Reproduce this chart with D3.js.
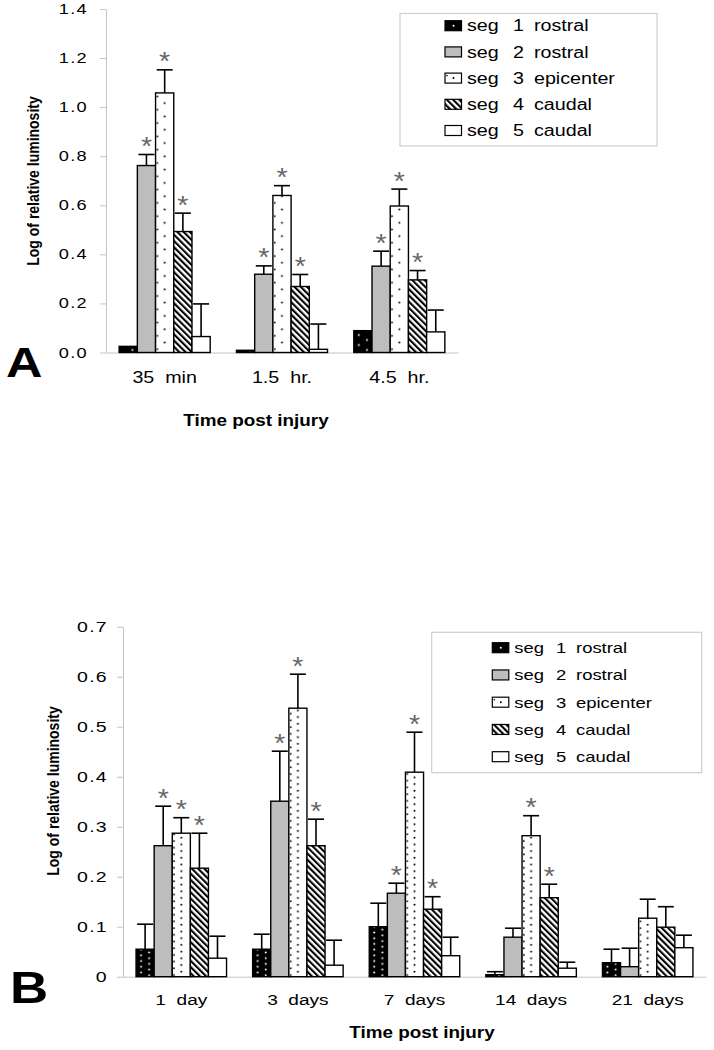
<!DOCTYPE html>
<html><head><meta charset="utf-8">
<script src="https://cdn.jsdelivr.net/npm/d3@7"></script>
<style>
html,body{margin:0;padding:0;background:#fff;}
svg{display:block;}
text{font-family:"Liberation Sans",Arial,sans-serif;}
</style></head><body>
<svg id="chart" width="714" height="1050"></svg>
<script>
// ---------- legend ----------
const segNumbers = ["1", "2", "3", "4", "5"];
const segRegions = ["rostral", "rostral", "epicenter", "caudal", "caudal"];

// ---------- panel A ----------
const categoriesA = ["35  min", "1.5  hr.", "4.5  hr."];
const seg1A = [0.025, 0.009, 0.089];
const seg2A = [0.762, 0.319, 0.352];
const seg3A = [1.058, 0.640, 0.597];
const seg4A = [0.493, 0.269, 0.296];
const seg5A = [0.065, 0.013, 0.084];
const err1A = [0, 0, 0];
const err2A = [0.045, 0.034, 0.061];
const err3A = [0.094, 0.040, 0.069];
const err4A = [0.075, 0.049, 0.038];
const err5A = [0.133, 0.103, 0.089];
const sig1A = [0, 0, 0];
const sig2A = [1, 1, 1];
const sig3A = [1, 1, 1];
const sig4A = [1, 1, 1];
const sig5A = [0, 0, 0];
const yTicksA = [0, 0.2, 0.4, 0.6, 0.8, 1.0, 1.2, 1.4];
const yTickLabelsA = ["0.0", "0.2", "0.4", "0.6", "0.8", "1.0", "1.2", "1.4"];

// ---------- panel B ----------
const categoriesB = ["1  day", "3  days", "7  days", "14  days", "21  days"];
const seg1B = [0.055, 0.055, 0.100, 0.004, 0.028];
const seg2B = [0.262, 0.351, 0.167, 0.079, 0.020];
const seg3B = [0.287, 0.537, 0.409, 0.282, 0.117];
const seg4B = [0.217, 0.262, 0.135, 0.158, 0.099];
const seg5B = [0.037, 0.023, 0.042, 0.017, 0.058];
const err1B = [0.050, 0.030, 0.047, 0.006, 0.027];
const err2B = [0.079, 0.100, 0.020, 0.018, 0.037];
const err3B = [0.031, 0.068, 0.080, 0.040, 0.038];
const err4B = [0.070, 0.053, 0.025, 0.027, 0.041];
const err5B = [0.044, 0.050, 0.037, 0.012, 0.025];
const sig1B = [0, 0, 0, 0, 0];
const sig2B = [1, 1, 1, 0, 0];
const sig3B = [1, 1, 1, 1, 0];
const sig4B = [1, 1, 1, 1, 0];
const sig5B = [0, 0, 0, 0, 0];
const yTicksB = [0, 0.1, 0.2, 0.3, 0.4, 0.5, 0.6, 0.7];
const yTickLabelsB = ["0", "0.1", "0.2", "0.3", "0.4", "0.5", "0.6", "0.7"];

const axisTitleX = "Time post injury";
const axisTitleY = "Log of relative luminosity";

// ---------- drawing ----------
const svg = d3.select("#chart");
const defs = svg.append("defs");
const GRAY = "#bdbdbd", AXIS = "#c4c4c4";

defs.append("pattern").attr("id", "stripes").attr("patternUnits", "userSpaceOnUse")
  .attr("width", 4.4).attr("height", 4.4).attr("patternTransform", "rotate(-45)")
  .call(p => { p.append("rect").attr("width", 4.4).attr("height", 4.4).attr("fill", "#fff");
               p.append("rect").attr("width", 2.1).attr("height", 4.4).attr("fill", "#000"); });

function stext(parent, str, x, y, o = {}) {
  const t = parent.append("text")
    .attr("transform", `translate(${x},${y}) scale(${o.sx || 1},1)` + (o.rotate ? ` rotate(${o.rotate})` : ""))
    .attr("text-anchor", o.anchor || "start")
    .style("font-size", (o.size || 14) + "px")
    .style("font-weight", o.bold ? "bold" : "normal")
    .style("white-space", "pre")
    .attr("fill", o.fill || "#000")
    .text(str);
  if (o.ls) t.style("letter-spacing", o.ls + "px");
  return t;
}

function drawPanel(p) {
  const g = svg.append("g");
  const x0 = d3.scaleBand().domain(p.categories).range(p.xRange).paddingInner(0.224).paddingOuter(0.112);
  const x1 = d3.scaleBand().domain(d3.range(p.series.length)).range([0, x0.bandwidth()]);
  const y = d3.scaleLinear().domain(p.yDomain).range(p.yRange);
  const bw = x1.bandwidth();

  // y axis
  const ya = g.append("g").attr("transform", `translate(${p.xRange[0]},0)`)
    .call(d3.axisLeft(y).tickValues(p.yTicks).tickSize(6).tickSizeOuter(0).tickFormat(""));
  ya.selectAll("path,line").attr("stroke", AXIS);
  p.yTicks.forEach((v, i) => stext(g, p.yTickLabels[i], p.yLabelX, y(v) + p.yLabelSize * 0.36,
    { anchor: "end", size: p.yLabelSize, sx: 1.3, ls: 1 }));
  // x axis baseline
  const xa = g.append("g").attr("transform", `translate(0,${y(0)})`)
    .call(d3.axisBottom(x0).tickSize(0).tickSizeOuter(0).tickFormat(""));
  xa.select("path").attr("stroke", AXIS);
  p.categories.forEach(c => stext(g, c, x0(c) + x0.bandwidth() / 2, p.xLabelY,
    { anchor: "middle", size: p.xLabelSize, sx: 1.23 }));

  // records
  const recs = [];
  p.series.forEach((s, si) => s.values.forEach((v, ci) => recs.push({
    si, ci, v, e: s.err[ci], sig: s.sig[ci], x: x0(p.categories[ci]) + x1(si)
  })));

  // per-bar patterns
  recs.forEach(r => {
    if (r.si === 0) {
      const h = p.dotStep1;
      defs.append("pattern").attr("id", `${p.id}p1_${r.ci}`).attr("patternUnits", "userSpaceOnUse")
        .attr("x", r.x).attr("y", y(0)).attr("width", bw).attr("height", h)
        .call(pt => {
          pt.append("rect").attr("width", bw).attr("height", h).attr("fill", "#000");
          pt.append("circle").attr("cx", 5).attr("cy", h * 0.25).attr("r", 1).attr("fill", "#fff");
          pt.append("circle").attr("cx", bw - 5).attr("cy", h * 0.75).attr("r", 1).attr("fill", "#fff");
        });
      r.fill = `url(#${p.id}p1_${r.ci})`;
    } else if (r.si === 2) {
      const h = p.dotStep3;
      defs.append("pattern").attr("id", `${p.id}p3_${r.ci}`).attr("patternUnits", "userSpaceOnUse")
        .attr("x", r.x).attr("y", y(0)).attr("width", bw).attr("height", h)
        .call(pt => {
          pt.append("rect").attr("width", bw).attr("height", h).attr("fill", "#fff");
          pt.append("circle").attr("cx", bw / 2).attr("cy", h * 0.25).attr("r", 1).attr("fill", "#000");
          pt.append("circle").attr("cx", 1.8).attr("cy", h * 0.75).attr("r", 0.9).attr("fill", "#000");
        });
      r.fill = `url(#${p.id}p3_${r.ci})`;
    } else if (r.si === 1) r.fill = GRAY;
    else if (r.si === 3) r.fill = "url(#stripes)";
    else r.fill = "#fff";
  });

  // error bars
  const eb = g.append("g").selectAll("g").data(recs.filter(r => r.e > 0)).join("g")
    .attr("stroke", "#000").attr("stroke-width", 1.6);
  eb.append("line").attr("x1", r => r.x + bw / 2).attr("x2", r => r.x + bw / 2)
    .attr("y1", r => y(r.v)).attr("y2", r => y(r.v + r.e));
  eb.append("line").attr("x1", r => r.x + bw / 2 - 8).attr("x2", r => r.x + bw / 2 + 8)
    .attr("y1", r => y(r.v + r.e)).attr("y2", r => y(r.v + r.e));

  // bars
  g.append("g").selectAll("rect").data(recs).join("rect")
    .attr("x", r => r.x).attr("width", bw)
    .attr("y", r => y(r.v)).attr("height", r => y(0) - y(r.v))
    .attr("fill", r => r.fill).attr("stroke", "#000").attr("stroke-width", 1.4);

  // asterisks
  recs.filter(r => r.sig).forEach(r => stext(g, "*", r.x + bw / 2, y(r.v + r.e) - 14 + 14.5,
    { anchor: "middle", size: 26, fill: "#666", sx: 1.1 }));

  // titles
  stext(g, axisTitleY, p.yTitle[0], p.yTitle[1], { anchor: "middle", size: 14, bold: true, sx: 1.2, rotate: -90 });
  stext(g, axisTitleX, p.xTitle[0], p.xTitle[1], { anchor: "middle", size: 16, bold: true, sx: 1.18 });
  stext(g, p.letter, p.letterPos[0], p.letterPos[1], { size: p.letterSize, bold: true, sx: 1.2 });

  // legend
  const L = p.legend;
  g.append("rect").attr("x", L.box[0]).attr("y", L.box[1]).attr("width", L.box[2] - L.box[0])
    .attr("height", L.box[3] - L.box[1]).attr("fill", "#fff").attr("stroke", "#cfcfcf").attr("stroke-width", 1.2);
  segNumbers.forEach((n, i) => {
    const cy = L.row0 + i * L.rowStep;
    const sw = g.append("g").attr("transform", `translate(${L.swX},${cy - 5})`);
    const fills = ["#000", GRAY, "#fff", "url(#stripes)", "#fff"];
    sw.append("rect").attr("width", 16.5).attr("height", 10).attr("fill", fills[i]).attr("stroke", "#000").attr("stroke-width", 1.2);
    if (i === 0) sw.append("circle").attr("cx", 8.5).attr("cy", 5).attr("r", 1).attr("fill", "#fff");
    if (i === 2) { sw.append("circle").attr("cx", 8.5).attr("cy", 5).attr("r", 1).attr("fill", "#000");
                   sw.append("circle").attr("cx", 2).attr("cy", 2.5).attr("r", 0.8).attr("fill", "#000"); }
    stext(g, "seg", L.tx[0], cy + L.size * 0.36, { size: L.size, sx: 1.23 });
    stext(g, n, L.tx[1], cy + L.size * 0.36, { size: L.size, sx: 1.23 });
    stext(g, segRegions[i], L.tx[2], cy + L.size * 0.36, { size: L.size, sx: 1.23 });
  });
}

drawPanel({
  id: "A", categories: categoriesA, xRange: [106, 458], yDomain: [0, 1.4], yRange: [352.5, 9],
  series: [
    { values: seg1A, err: err1A, sig: sig1A }, { values: seg2A, err: err2A, sig: sig2A },
    { values: seg3A, err: err3A, sig: sig3A }, { values: seg4A, err: err4A, sig: sig4A },
    { values: seg5A, err: err5A, sig: sig5A }],
  yTicks: yTicksA, yTickLabels: yTickLabelsA, yLabelX: 88, yLabelSize: 14,
  xLabelY: 383, xLabelSize: 16, dotStep1: 10, dotStep3: 13.3,
  yTitle: [39, 181], xTitle: [256, 426], letter: "A", letterPos: [6, 377], letterSize: 42,
  legend: { box: [400, 13.5, 657, 146], row0: 25.7, rowStep: 26.2, swX: 445, tx: [467, 513, 534], size: 16 }
});

drawPanel({
  id: "B", categories: categoriesB, xRange: [123, 706], yDomain: [0, 0.7], yRange: [976.7, 626.7],
  series: [
    { values: seg1B, err: err1B, sig: sig1B }, { values: seg2B, err: err2B, sig: sig2B },
    { values: seg3B, err: err3B, sig: sig3B }, { values: seg4B, err: err4B, sig: sig4B },
    { values: seg5B, err: err5B, sig: sig5B }],
  yTicks: yTicksB, yTickLabels: yTickLabelsB, yLabelX: 108, yLabelSize: 15,
  xLabelY: 1005, xLabelSize: 15.5, dotStep1: 5.7, dotStep3: 6.7,
  yTitle: [59, 791], xTitle: [422, 1038], letter: "B", letterPos: [10, 1003], letterSize: 44,
  legend: { box: [431.7, 632.3, 701.7, 772.7], row0: 647.7, rowStep: 27.25, swX: 492.3, tx: [514.3, 556, 576], size: 15 }
});
</script>
</body></html>
